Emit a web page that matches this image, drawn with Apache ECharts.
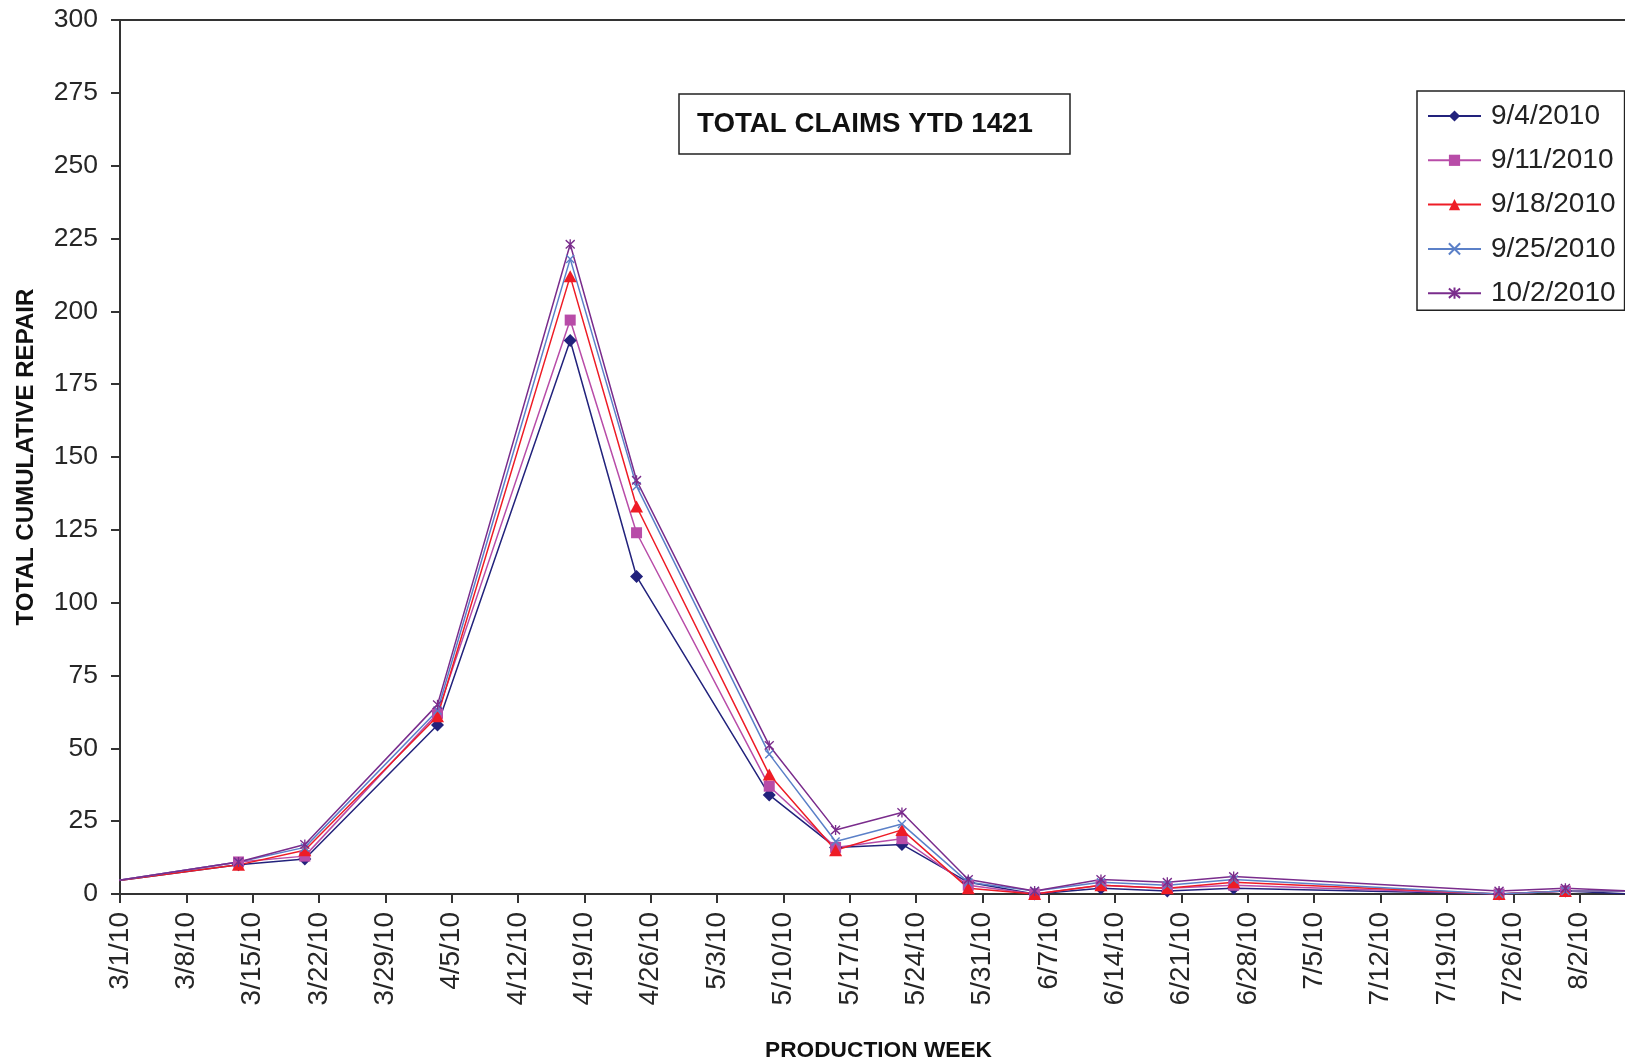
<!DOCTYPE html>
<html>
<head>
<meta charset="utf-8">
<title>Total cumulative repair</title>
<script src="https://cdn.jsdelivr.net/npm/echarts@6/dist/echarts.min.js"></script>
<style>
  html, body { margin: 0; padding: 0; background: #fff; }
  #chart { width: 1625px; height: 1063px; }
</style>
</head>
<body>
<div id="chart"></div>
<script>
// production weeks (first point sits just left of the axis and gets clipped)
const dates = [
  "2010-02-27", "2010-03-13", "2010-03-20", "2010-04-03", "2010-04-17",
  "2010-04-24", "2010-05-08", "2010-05-15", "2010-05-22", "2010-05-29",
  "2010-06-05", "2010-06-12", "2010-06-19", "2010-06-26", "2010-07-24",
  "2010-07-31", "2010-08-07"
];
const seriesNames = ["9/4/2010", "9/11/2010", "9/18/2010", "9/25/2010", "10/2/2010"];
const rep0904 = [4, 10, 12, 58, 190, 109, 34, 16, 17, 4, 0, 2, 1, 2, 0, 1, 0];
const rep0911 = [4, 11, 13, 62, 197, 124, 37, 16, 19, 3, 0, 3, 2, 3, 0, 1, 1];
const rep0918 = [4, 10, 15, 61, 212, 133, 41, 15, 22, 2, 0, 3, 2, 4, 0, 1, 1];
const rep0925 = [4, 11, 16, 63, 218, 140, 48, 18, 24, 4, 1, 4, 3, 5, 0, 1, 1];
const rep1002 = [4, 11, 17, 65, 223, 142, 51, 22, 28, 5, 1, 5, 4, 6, 1, 2, 1];
// x tick labels, one per week starting 3/1/10
const weekLabels = [
  "3/1/10", "3/8/10", "3/15/10", "3/22/10", "3/29/10", "4/5/10", "4/12/10",
  "4/19/10", "4/26/10", "5/3/10", "5/10/10", "5/17/10", "5/24/10", "5/31/10",
  "6/7/10", "6/14/10", "6/21/10", "6/28/10", "7/5/10", "7/12/10", "7/19/10",
  "7/26/10", "8/2/10"
];
const yTicks = [0, 300, 25]; // min, max, step

const FONT = "'Liberation Sans', Arial, sans-serif";
const DAY = 86400000;
const START = Date.UTC(2010, 2, 1);

// days since 3/1/10; a date is drawn in the middle of its day slot (like excel's date axis)
function dayOf(s) {
  let p = s.split("-");
  return Math.round((Date.UTC(+p[0], +p[1] - 1, +p[2]) - START) / DAY) + 0.5;
}

function pairs(values) {
  return dates.map((d, i) => [dayOf(d), values[i]]);
}

const X_MARK = "path://M0,0L10,10M10,0L0,10";
const STAR_MARK = "path://M0,0L10,10M10,0L0,10M5,-1L5,11";

const styles = [
  { color: "#22227c", symbol: "diamond", size: [13, 13], border: 0 },
  { color: "#b84ca8", symbol: "rect", size: [11, 11], border: 0 },
  { color: "#ee1c26", symbol: "triangle", size: [13, 12], border: 0 },
  { color: "#5b80c8", symbol: X_MARK, size: [8, 8], border: 1.4 },
  { color: "#7a2c8c", symbol: STAR_MARK, size: [9, 10], border: 1.4 }
];
const allValues = [rep0904, rep0911, rep0918, rep0925, rep1002];

let chart = echarts.init(document.getElementById("chart"), null, { renderer: "canvas" });

let option = {
  animation: false,
  backgroundColor: "#fff",
  title: {
    text: "TOTAL CLAIMS YTD 1421",
    left: 679,
    top: 94,
    padding: [16, 37, 16, 18],
    borderColor: "#222",
    borderWidth: 1.5,
    textStyle: { fontFamily: FONT, fontSize: 27.7, fontWeight: "bold", color: "#111" }
  },
  legend: {
    orient: "vertical",
    left: 1417,
    top: 91,
    padding: [11, 9, 3, 10],
    itemGap: 16.3,
    itemWidth: 53,
    itemHeight: 14,
    borderColor: "#222",
    borderWidth: 1.5,
    backgroundColor: "#fff",
    data: seriesNames,
    textStyle: { fontFamily: FONT, fontSize: 28, color: "#222", padding: [0, 0, 0, 5] }
  },
  grid: {
    left: 120,
    top: 20,
    right: -2,
    bottom: 169,
    outerBoundsMode: "none",
    containLabel: false,
    show: true,
    borderColor: "#333",
    borderWidth: 2
  },
  xAxis: {
    type: "value",
    min: 0,
    max: 159,
    interval: 7,
    name: "PRODUCTION WEEK",
    nameLocation: "middle",
    nameGap: 145,
    nameTextStyle: {
      fontFamily: FONT, fontSize: 22.7, fontWeight: "bold", color: "#111",
      padding: [0, 0, 0, 10]
    },
    axisLine: { show: true, lineStyle: { color: "#333", width: 2 } },
    axisTick: { show: true, inside: false, length: 9, lineStyle: { color: "#333", width: 2 } },
    splitLine: { show: false },
    axisLabel: {
      rotate: 90,
      margin: 18,
      fontFamily: FONT,
      fontSize: 28,
      color: "#262626",
      formatter: function (v) {
        return v % 7 === 0 ? (weekLabels[v / 7] || "") : "";
      }
    }
  },
  yAxis: {
    type: "value",
    min: yTicks[0],
    max: yTicks[1],
    interval: yTicks[2],
    name: "TOTAL CUMULATIVE REPAIR",
    nameLocation: "middle",
    nameGap: 82,
    nameTextStyle: { fontFamily: FONT, fontSize: 24.1, fontWeight: "bold", color: "#111" },
    axisLine: { show: true, lineStyle: { color: "#333", width: 2 } },
    axisTick: { show: true, inside: false, length: 9, lineStyle: { color: "#333", width: 2 } },
    splitLine: { show: false },
    axisLabel: { margin: 22, fontFamily: FONT, fontSize: 26.5, color: "#262626" }
  },
  series: seriesNames.map((name, i) => ({
    name: name,
    type: "line",
    clip: true,
    data: pairs(allValues[i]),
    symbol: styles[i].symbol,
    symbolSize: styles[i].size,
    showAllSymbol: true,
    lineStyle: { color: styles[i].color, width: 1.5 },
    itemStyle: {
      color: styles[i].color,
      borderColor: styles[i].color,
      borderWidth: styles[i].border
    },
    emphasis: { disabled: true }
  }))
};

chart.setOption(option);
</script>
</body>
</html>
